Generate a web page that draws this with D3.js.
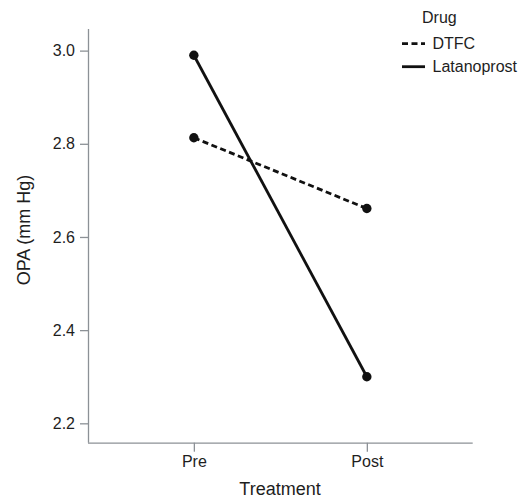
<!DOCTYPE html>
<html>
<head>
<meta charset="utf-8">
<script src="https://cdn.jsdelivr.net/npm/d3@7"></script>
<style>
  body { margin: 0; background: #fff; }
  svg { display: block; font-family: "Liberation Sans", Arial, sans-serif; }
</style>
</head>
<body>
<svg id="canvas" width="521" height="500"></svg>
<script>
// chart values
var treatments = ['Pre', 'Post'];
var drugs = ['DTFC', 'Latanoprost'];
var dtfc = [2.813, 2.661];
var latanoprost = [2.99, 2.30];
var yTicks = [2.2, 2.4, 2.6, 2.8, 3.0];

var series = [
    { name: drugs[0], values: dtfc, dash: '6,3.5' },
    { name: drugs[1], values: latanoprost, dash: null }
];

var svg = d3.select('#canvas');
var axisColor = '#8c9196';
var textColor = '#1e1e1e';

var x = d3.scalePoint()
    .domain(treatments)
    .range([88, 472.7])
    .padding(0.612);

var y = d3.scaleLinear()
    .domain([2.1584, 3.0464])
    .range([442.7, 29]);

// y axis
var yAxis = svg.append('g')
    .attr('transform', 'translate(88,0)')
    .call(d3.axisLeft(y).tickValues(yTicks).tickFormat(d3.format('.1f')).tickSize(8).tickPadding(5));

// x axis
var xAxis = svg.append('g')
    .attr('transform', 'translate(0,442.7)')
    .call(d3.axisBottom(x).tickSize(9).tickPadding(4));

[yAxis, xAxis].forEach(function(g) {
    g.select('.domain').attr('stroke', axisColor).attr('stroke-width', 1.3);
    g.selectAll('.tick line').attr('stroke', axisColor).attr('stroke-width', 1.3);
    g.selectAll('.tick text')
        .attr('fill', textColor)
        .style('font-size', '16px')
        .style('font-family', '"Liberation Sans", Arial, sans-serif');
});
// d3 draws an outer tick, remove it to get a plain line
yAxis.select('.domain').attr('d', 'M0.5,' + y.range()[1] + 'V' + y.range()[0]);
xAxis.select('.domain').attr('d', 'M' + x.range()[0] + ',0.5H' + x.range()[1]);

// axis titles
svg.append('text')
    .attr('x', 280)
    .attr('y', 495)
    .attr('text-anchor', 'middle')
    .attr('fill', textColor)
    .style('font-size', '18px')
    .text('Treatment');

svg.append('text')
    .attr('transform', 'translate(30,230) rotate(-90)')
    .attr('text-anchor', 'middle')
    .attr('fill', textColor)
    .style('font-size', '18px')
    .text('OPA (mm Hg)');

// lines + points
var line = d3.line()
    .x(function(d, i) { return x(treatments[i]); })
    .y(function(d) { return y(d); });

var groups = svg.selectAll('g.series')
    .data(series)
    .enter()
    .append('g')
    .attr('class', 'series');

groups.append('path')
    .attr('d', function(d) { return line(d.values); })
    .attr('fill', 'none')
    .attr('stroke', '#111')
    .attr('stroke-width', 2.8)
    .attr('stroke-dasharray', function(d) { return d.dash; });

groups.selectAll('circle')
    .data(function(d) { return d.values; })
    .enter()
    .append('circle')
    .attr('cx', function(d, i) { return x(treatments[i]); })
    .attr('cy', function(d) { return y(d); })
    .attr('r', 4.7)
    .attr('fill', '#111');

// legend
var legend = svg.append('g');
legend.append('text')
    .attr('x', 422)
    .attr('y', 22.5)
    .attr('fill', textColor)
    .style('font-size', '16px')
    .text('Drug');

var items = legend.selectAll('g.item')
    .data(series)
    .enter()
    .append('g')
    .attr('class', 'item')
    .attr('transform', function(d, i) { return 'translate(0,' + (43.7 + i * 23) + ')'; });

items.append('line')
    .attr('x1', 402)
    .attr('x2', 425)
    .attr('stroke', '#111')
    .attr('stroke-width', 2.8)
    .attr('stroke-dasharray', function(d) { return d.dash; });

items.append('text')
    .attr('x', 432.5)
    .attr('y', 5.7)
    .attr('fill', textColor)
    .style('font-size', '16px')
    .text(function(d) { return d.name; });
</script>
</body>
</html>
